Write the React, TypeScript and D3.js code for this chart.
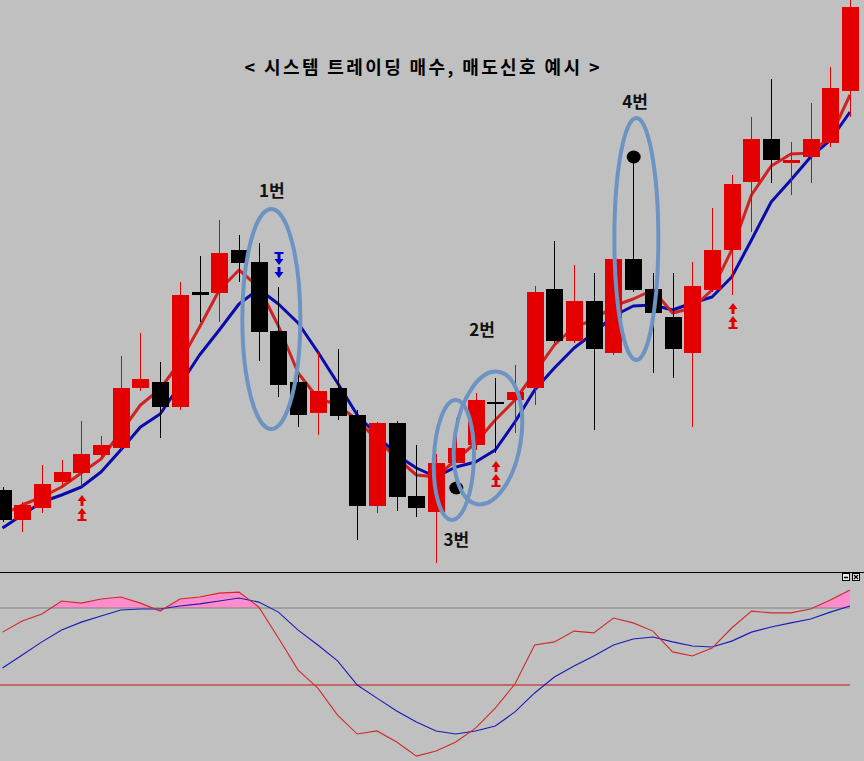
import React from "react";
import * as d3 from "d3";

const W = 864;
const H = 761;
const MAIN_BOTTOM = 572;

// ---- price data (arbitrary price units) ----
const opens = [110,80,92,118,127,145,152,212,218,193,308,307,350,338,269,218,187,212,185,94,177,104,88,137,155,198,200,212,311,259,299,247,341,311,283,247,310,350,418,461,437,443,457,509];
const highs = [113,98,135,140,179,164,244,267,238,318,344,380,365,357,313,225,248,251,190,178,179,155,146,182,207,222,235,314,359,335,327,343,440,327,327,338,392,425,483,521,458,497,533,600];
const lows = [78,68,87,113,113,142,150,209,162,190,278,278,318,239,203,173,165,180,60,87,89,83,37,137,150,147,167,195,257,257,170,245,308,227,222,173,308,305,368,417,405,417,453,483];
const closes = [80,95,116,128,146,155,212,221,193,305,305,347,337,268,215,185,209,184,94,177,103,92,137,152,200,196,208,308,259,299,251,341,310,287,251,314,350,416,461,440,440,461,512,593];

// moving averages
const maFast = [85,95,103,113,127,141,168,195,211,238,273,310,330,313,274,227,202,195,180,160,142,125,123,140,157,180,200,227,255,273,280,294,301,310,287,292,310,350,405,434,446,447,463,505];
const maSlow = [72,85,98,105,113,128,150,173,186,215,245,270,296,311,296,277,248,217,185,165,145,132,123,133,138,150,178,210,232,252,267,284,294,295,290,297,303,323,360,398,420,443,460,488];

// oscillator (lower pane)
const oscK = [70.6,74.9,77.7,82.7,81.9,83.5,84.3,81.9,78.8,83.5,84.3,85.8,86.2,80.4,68.3,55.8,48.8,38.3,30.9,32.1,27.8,22.3,24.3,27.8,33.2,41.0,50.4,65.6,66.8,71.0,70.3,76.1,74.2,71.0,62.9,61.3,64.4,72.2,78.8,78.1,78.1,79.6,83.1,87.0];
const oscD = [56.6,61.7,66.8,71.4,74.5,76.9,79.2,79.6,79.6,80.8,81.6,82.7,83.9,82.3,78.4,71.4,65.6,59.4,50.0,44.9,39.9,35.6,32.1,30.9,32.1,34.0,39.5,46.9,53.1,57.4,61.3,65.6,67.9,68.7,66.8,65.2,64.8,67.1,70.6,72.6,74.2,75.7,78.4,80.8];
const oscUpper = 80;
const oscMid = 50;

// signals & annotations
const buySignals = [4, 25, 37];
const sellSignals = [14];
const dotIndex = [23, 32];
const dotPrice = [112, 443];
const ringIndex = [13.64, 24.63, 22.9, 32.16];
const ringPrice = [281, 162, 140, 361];
const ringRx = [29, 33, 20, 22];
const ringRy = [110, 67, 60, 121];
const ringTilt = [0, 9, 2, 0];
const labelText = ["1번", "2번", "3번", "4번"];
const labelIndex = [13.66, 24.33, 23.03, 32.09];
const labelPrice = [403, 264, 54, 492];
const title = "< 시스템 트레이딩 매수, 매도신호 예시 >";

const BG = "#c0c0c0";
const CANDLE_RED = "#e40000";
const MA_RED = "#cf2323";
const MA_BLUE = "#0b0bab";
const RING = "#6d93c3";

const UP_ARROWS =
  "M0,0 L-4.5,6 L-1.5,6 L-1.5,11 L1.5,11 L1.5,6 L4.5,6 Z " +
  "M0,13 L-4.5,19 L-1.5,19 L-1.5,24 L-4.5,24 L-4.5,26 L4.5,26 L4.5,24 L1.5,24 L1.5,19 L4.5,19 Z";

export default function App() {
  const n = closes.length;
  const x = d3.scaleLinear().domain([0, n - 1]).range([2.5, 850]);
  const y = d3.scaleLinear().domain([28, 600]).range([MAIN_BOTTOM, 0]);
  const yo = d3.scaleLinear().domain([20, 80]).range([762, 608]);
  const bodyW = 17;

  const line = d3
    .line<number>()
    .x((_, i) => x(i))
    .y((v) => y(v));
  const oscLine = d3
    .line<number>()
    .x((_, i) => x(i))
    .y((v) => yo(v));
  const oscArea = d3
    .area<number>()
    .x((_, i) => x(i))
    .y0(yo(oscUpper))
    .y1((v) => yo(v));

  const font = "'Noto Sans CJK KR', 'Noto Sans', sans-serif";

  return (
    <div style={{ position: "absolute", left: 0, top: 0 }}>
      <svg width={W} height={H} style={{ display: "block" }}>
        <defs>
          <clipPath id="mainClip">
            <rect x={0} y={0} width={W} height={MAIN_BOTTOM} />
          </clipPath>
          <clipPath id="aboveUpper">
            <rect x={0} y={MAIN_BOTTOM} width={W} height={yo(oscUpper) - MAIN_BOTTOM} />
          </clipPath>
        </defs>
        <rect x={0} y={0} width={W} height={H} fill={BG} />

        {/* ---------- main pane ---------- */}
        <g clipPath="url(#mainClip)">
          <path d={line(maSlow) || ""} fill="none" stroke={MA_BLUE} strokeWidth={3} strokeLinejoin="round" />
          <path d={line(maFast) || ""} fill="none" stroke={MA_RED} strokeWidth={3} strokeLinejoin="round" />

          {closes.map((c, i) => {
            const o = opens[i];
            const up = c >= o;
            const col = up ? CANDLE_RED : "#000";
            const top = y(Math.max(o, c));
            const bot = y(Math.min(o, c));
            const cx = Math.round(x(i));
            return (
              <g key={i}>
                <line x1={cx + 0.5} x2={cx + 0.5} y1={y(highs[i])} y2={y(lows[i])} stroke={col} strokeWidth={1} />
                <rect x={cx - bodyW / 2 + 0.5} y={top} width={bodyW} height={Math.max(bot - top, 2)} fill={col} />
              </g>
            );
          })}

          {buySignals.map((i) => (
            <path
              key={"b" + i}
              d={UP_ARROWS}
              fill={CANDLE_RED}
              transform={`translate(${Math.round(x(i)) + 1},${y(lows[i]) + 8})`}
            />
          ))}
          {sellSignals.map((i) => (
            <path
              key={"s" + i}
              d={UP_ARROWS}
              fill="#0000d0"
              transform={`translate(${Math.round(x(i)) + 1},${y(highs[i]) - 9}) scale(1,-1)`}
            />
          ))}

          {dotIndex.map((i, k) => (
            <ellipse key={"d" + k} cx={x(i) + 0.5} cy={y(dotPrice[k])} rx={7} ry={6.5} fill="#000" />
          ))}

          {ringIndex.map((ri, k) => {
            const cx = x(ri);
            const cy = y(ringPrice[k]);
            return (
              <ellipse
                key={"r" + k}
                cx={cx}
                cy={cy}
                rx={ringRx[k]}
                ry={ringRy[k]}
                fill="none"
                stroke={RING}
                strokeWidth={4}
                transform={`rotate(${ringTilt[k]},${cx},${cy})`}
              />
            );
          })}

          {labelText.map((t, k) => (
            <text
              key={"l" + k}
              x={x(labelIndex[k])}
              y={y(labelPrice[k])}
              textAnchor="middle"
              fontFamily={font}
              fontWeight="bold"
              fontSize={17}
              fill="#111"
            >
              {t}
            </text>
          ))}

          <text
            x={422}
            y={74}
            textAnchor="middle"
            fontFamily={font}
            fontWeight="bold"
            fontSize={18}
            textLength={355}
            lengthAdjust="spacing"
            fill="#000"
          >
            {title}
          </text>
        </g>

        {/* ---------- separator ---------- */}
        <line x1={0} x2={W} y1={MAIN_BOTTOM + 0.5} y2={MAIN_BOTTOM + 0.5} stroke="#000" strokeWidth={1} />

        {/* ---------- oscillator pane ---------- */}
        <path d={oscArea(oscK) || ""} fill="#ff8ccb" clipPath="url(#aboveUpper)" />
        <line x1={0} x2={x(n - 1)} y1={yo(oscUpper)} y2={yo(oscUpper)} stroke="#808080" strokeWidth={1} />
        <line x1={0} x2={x(n - 1)} y1={yo(oscMid)} y2={yo(oscMid)} stroke="#c41010" strokeWidth={1.2} />
        <path d={oscLine(oscD) || ""} fill="none" stroke="#1a1ab8" strokeWidth={1.1} />
        <path d={oscLine(oscK) || ""} fill="none" stroke="#d02a2a" strokeWidth={1.1} />

        {/* window buttons */}
        <rect x={842.5} y={573.5} width={7} height={7} fill="#ececec" stroke="#000" strokeWidth={1} />
        <line x1={844} x2={848} y1={577.5} y2={577.5} stroke="#000" strokeWidth={1.5} />
        <rect x={852.5} y={573.5} width={7} height={7} fill="#ececec" stroke="#000" strokeWidth={1} />
        <path d="M854,575 L858,579 M858,575 L854,579" stroke="#000" strokeWidth={1.3} />
      </svg>
    </div>
  );
}
